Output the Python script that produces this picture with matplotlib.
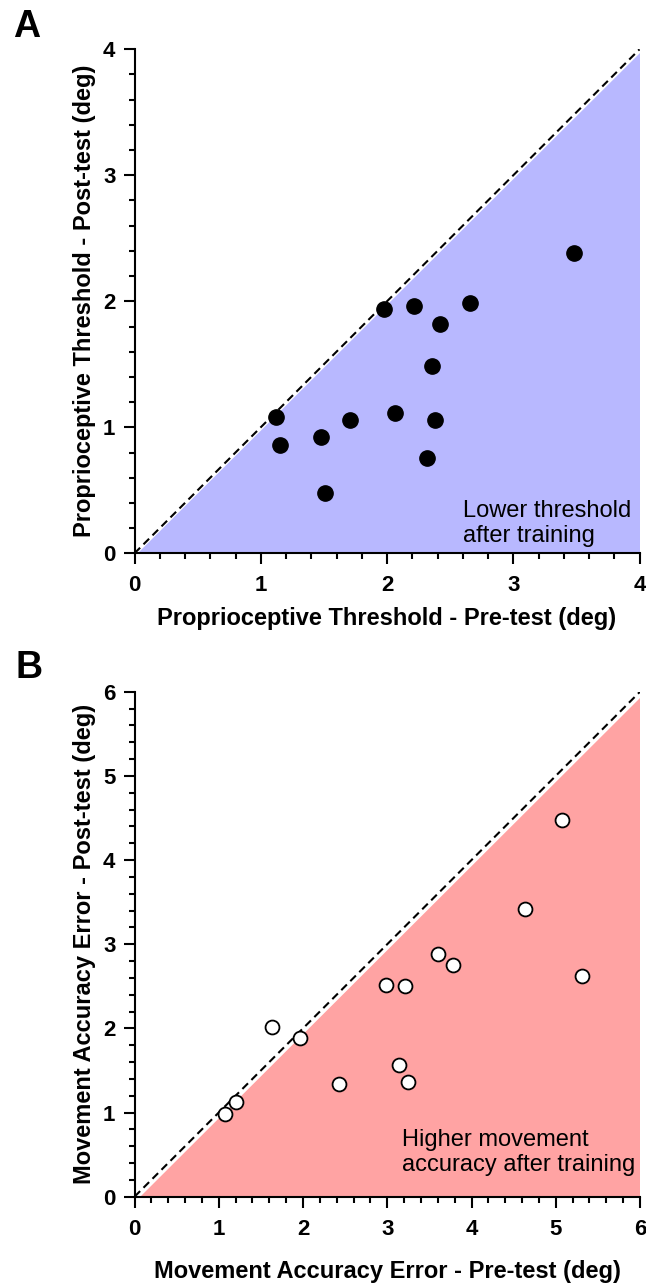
import numpy as np
import matplotlib
matplotlib.use("Agg")
import matplotlib.pyplot as plt

plt.rcParams["font.family"] = ["Liberation Sans", "DejaVu Sans"]

# Panel A: proprioceptive threshold (deg), pre vs post test
Thr_Pre = [1.12, 1.15, 1.48, 1.51, 1.71, 1.98, 2.06, 2.21, 2.42, 2.36, 2.38, 2.32, 2.66, 3.48]
Thr_Post = [1.08, 0.86, 0.92, 0.48, 1.06, 1.94, 1.11, 1.96, 1.82, 1.49, 1.06, 0.76, 1.99, 2.38]

# Panel B: movement accuracy error (deg), pre vs post test
Err_Pre = [1.08, 1.20, 1.63, 1.97, 2.43, 2.98, 3.21, 3.14, 3.25, 3.60, 3.78, 4.63, 5.08, 5.31]
Err_Post = [0.98, 1.13, 2.02, 1.88, 1.34, 2.52, 2.50, 1.57, 1.36, 2.88, 2.75, 3.42, 4.47, 2.62]

W, H = 646, 1283
fig = plt.figure(figsize=(W / 100, H / 100), dpi=100)


def make_axes(left, top, right, bottom):
    return fig.add_axes([left / W, 1 - bottom / H, (right - left) / W, (bottom - top) / H])


def style_axes(ax, vmax, fill_colour, offset):
    # Shaded triangle below identity line, then dashed identity line
    ax.fill([offset, vmax, vmax], [0, 0, vmax - offset], color=fill_colour, lw=0, zorder=1)
    ax.plot([0, vmax], [0, vmax], color="black", lw=1.5, dashes=(3.8, 2.3), zorder=2)
    ax.set_xlim(0, vmax)
    ax.set_ylim(0, vmax)
    ax.set_xticks(np.arange(0, vmax + 1, 1))
    ax.set_yticks(np.arange(0, vmax + 1, 1))
    ax.set_xticks(np.arange(0, vmax + 0.01, 0.2), minor=True)
    ax.set_yticks(np.arange(0, vmax + 0.01, 0.2), minor=True)
    for s in ["top", "right"]:
        ax.spines[s].set_visible(False)
    for s in ["left", "bottom"]:
        ax.spines[s].set_linewidth(1.5)
    ax.tick_params(which="major", direction="out", length=7.8, width=1.5, labelsize=16)
    ax.tick_params(axis="x", which="major", pad=8)
    ax.tick_params(axis="y", which="major", pad=6)
    ax.tick_params(which="minor", direction="out", length=4.3, width=1.5)
    for lab in ax.get_xticklabels() + ax.get_yticklabels():
        lab.set_fontweight("bold")


# Panel A
axA = make_axes(134.5, 49.3, 639.5, 553.3)
style_axes(axA, 4, "#B8B8FF", 0.03)
axA.scatter(Thr_Pre, Thr_Post, s=121, color="black", zorder=3, clip_on=False)
axA.text(2.604, 0.423, "Lower threshold\nafter training", fontsize=17, va="top", ha="left",
         linespacing=1.2)
axA.set_xlabel("Proprioceptive Threshold - Pre-test (deg)", fontsize=17, fontweight="bold")
axA.set_ylabel("Proprioceptive Threshold - Post-test (deg)", fontsize=17, fontweight="bold")
axA.xaxis.set_label_coords(0.5, -0.1065)
axA.yaxis.set_label_coords(-0.076, 0.5)
fig.text(13 / W, 1 - 37 / H, "A", fontsize=27, fontweight="bold", va="baseline")

# Panel B
axB = make_axes(134.5, 691.7, 640, 1196.7)
style_axes(axB, 6, "#FFA3A3", 0.07)
axB.scatter(Err_Pre, Err_Post, s=100, facecolor="white", edgecolor="black", linewidths=1.3,
            zorder=3, clip_on=False)
axB.text(3.171, 0.804, "Higher movement\naccuracy after training", fontsize=17, va="top",
         ha="left", linespacing=1.2)
axB.set_xlabel("Movement Accuracy Error - Pre-test (deg)", fontsize=17, fontweight="bold")
axB.set_ylabel("Movement Accuracy Error - Post-test (deg)", fontsize=17, fontweight="bold")
axB.xaxis.set_label_coords(0.5, -0.125)
axB.yaxis.set_label_coords(-0.076, 0.5)
fig.text(15 / W, 1 - 678 / H, "B", fontsize=27, fontweight="bold", va="baseline")

fig.savefig("out.png", dpi=100)
